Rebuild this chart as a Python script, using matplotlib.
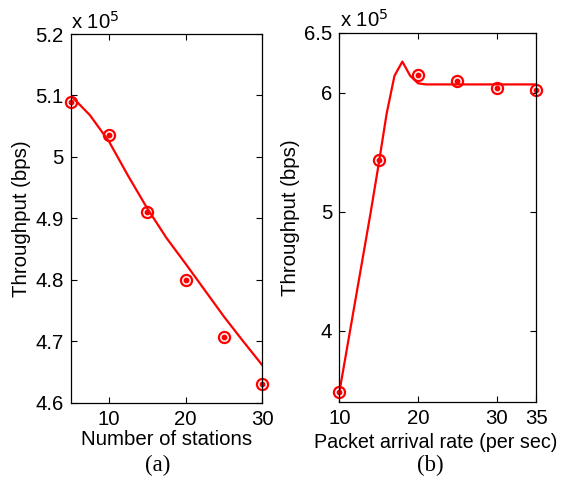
import numpy as np
import matplotlib.pyplot as plt

plt.rcParams['font.family'] = ['Liberation Sans', 'DejaVu Sans']

# (a) throughput vs number of stations (x 1e5 bps)
stations_sim = [5, 10, 15, 20, 25, 30]
thr_sim_a = [5.090, 5.036, 4.910, 4.800, 4.707, 4.631]
stations_model = [5, 7.5, 10, 12.5, 15, 17.5, 20, 22.5, 25, 27.5, 30]
thr_model_a = [5.100, 5.068, 5.025, 4.969, 4.916, 4.868, 4.826, 4.783, 4.740, 4.700, 4.661]

# (b) throughput vs packet arrival rate (x 1e5 bps)
rate_sim = [10, 15, 20, 25, 30, 35]
thr_sim_b = [3.48, 5.433, 6.146, 6.096, 6.040, 6.017]
rate_model = [10, 11, 12, 13, 14, 15, 16, 17, 18, 19, 20, 21, 25, 30, 35]
thr_model_b = [3.48, 3.86, 4.24, 4.62, 5.00, 5.40, 5.82, 6.14, 6.26, 6.14, 6.077, 6.068, 6.068, 6.068, 6.068]

W, H = 563, 480
fig = plt.figure(figsize=(W / 100, H / 100), dpi=100)

def box(l, t, r, b):
    return [l / W, 1 - b / H, (r - l) / W, (b - t) / H]

red = '#ff0000'
fs = 14.7

def style(ax):
    ax.tick_params(direction='in', top=True, right=True, labelsize=fs, length=4, width=0.8, pad=5)
    for s in ax.spines.values():
        s.set_linewidth(0.9)

def draw(ax, xm, ym, xs, ys):
    ax.plot(xm, ym, '-', color=red, lw=1.6)
    ax.plot(xs, ys, 'o', color=red, mfc='none', ms=8, mew=1.6, clip_on=False)
    ax.plot(xs, ys, 'o', color=red, ms=3.2, clip_on=False)

ax1 = fig.add_axes(box(70.7, 34, 262.3, 402.7))
draw(ax1, stations_model, thr_model_a, stations_sim, thr_sim_a)
ax1.set_xlim(5, 30)
ax1.set_ylim(4.6, 5.2)
ax1.set_xticks([10, 20, 30])
ax1.set_yticks([4.6, 4.7, 4.8, 4.9, 5.0, 5.1, 5.2])
ax1.set_yticklabels(['4.6', '4.7', '4.8', '4.9', '5', '5.1', '5.2'])
style(ax1)
ax1.set_xlabel('Number of stations', fontsize=fs, labelpad=1)
ax1.set_ylabel('Throughput (bps)', fontsize=fs, labelpad=3)
fig.text(71 / W, 1 - 22 / H, r'x 10$^5$', fontsize=fs, va='center', ha='left')
fig.text(158 / W, 1 - 465 / H, '(a)', fontsize=16.5, family='Liberation Serif', ha='center', va='center')

ax2 = fig.add_axes(box(339.3, 33, 536.3, 402))
draw(ax2, rate_model, thr_model_b, rate_sim, thr_sim_b)
ax2.set_xlim(10, 35)
ax2.set_ylim(3.4, 6.5)
ax2.set_xticks([10, 20, 30, 35])
ax2.set_yticks([4, 5, 6, 6.5])
ax2.set_yticklabels(['4', '5', '6', '6.5'])
style(ax2)
ax2.set_xlabel('Packet arrival rate (per sec)', fontsize=14.2, labelpad=1)
ax2.xaxis.set_label_coords(0.49, -0.085)
ax2.set_ylabel('Throughput (bps)', fontsize=fs, labelpad=3)
fig.text(340 / W, 1 - 20 / H, r'x 10$^5$', fontsize=fs, va='center', ha='left')
fig.text(430 / W, 1 - 465 / H, '(b)', fontsize=16.5, family='Liberation Serif', ha='center', va='center')

fig.savefig('out.png', dpi=100)
